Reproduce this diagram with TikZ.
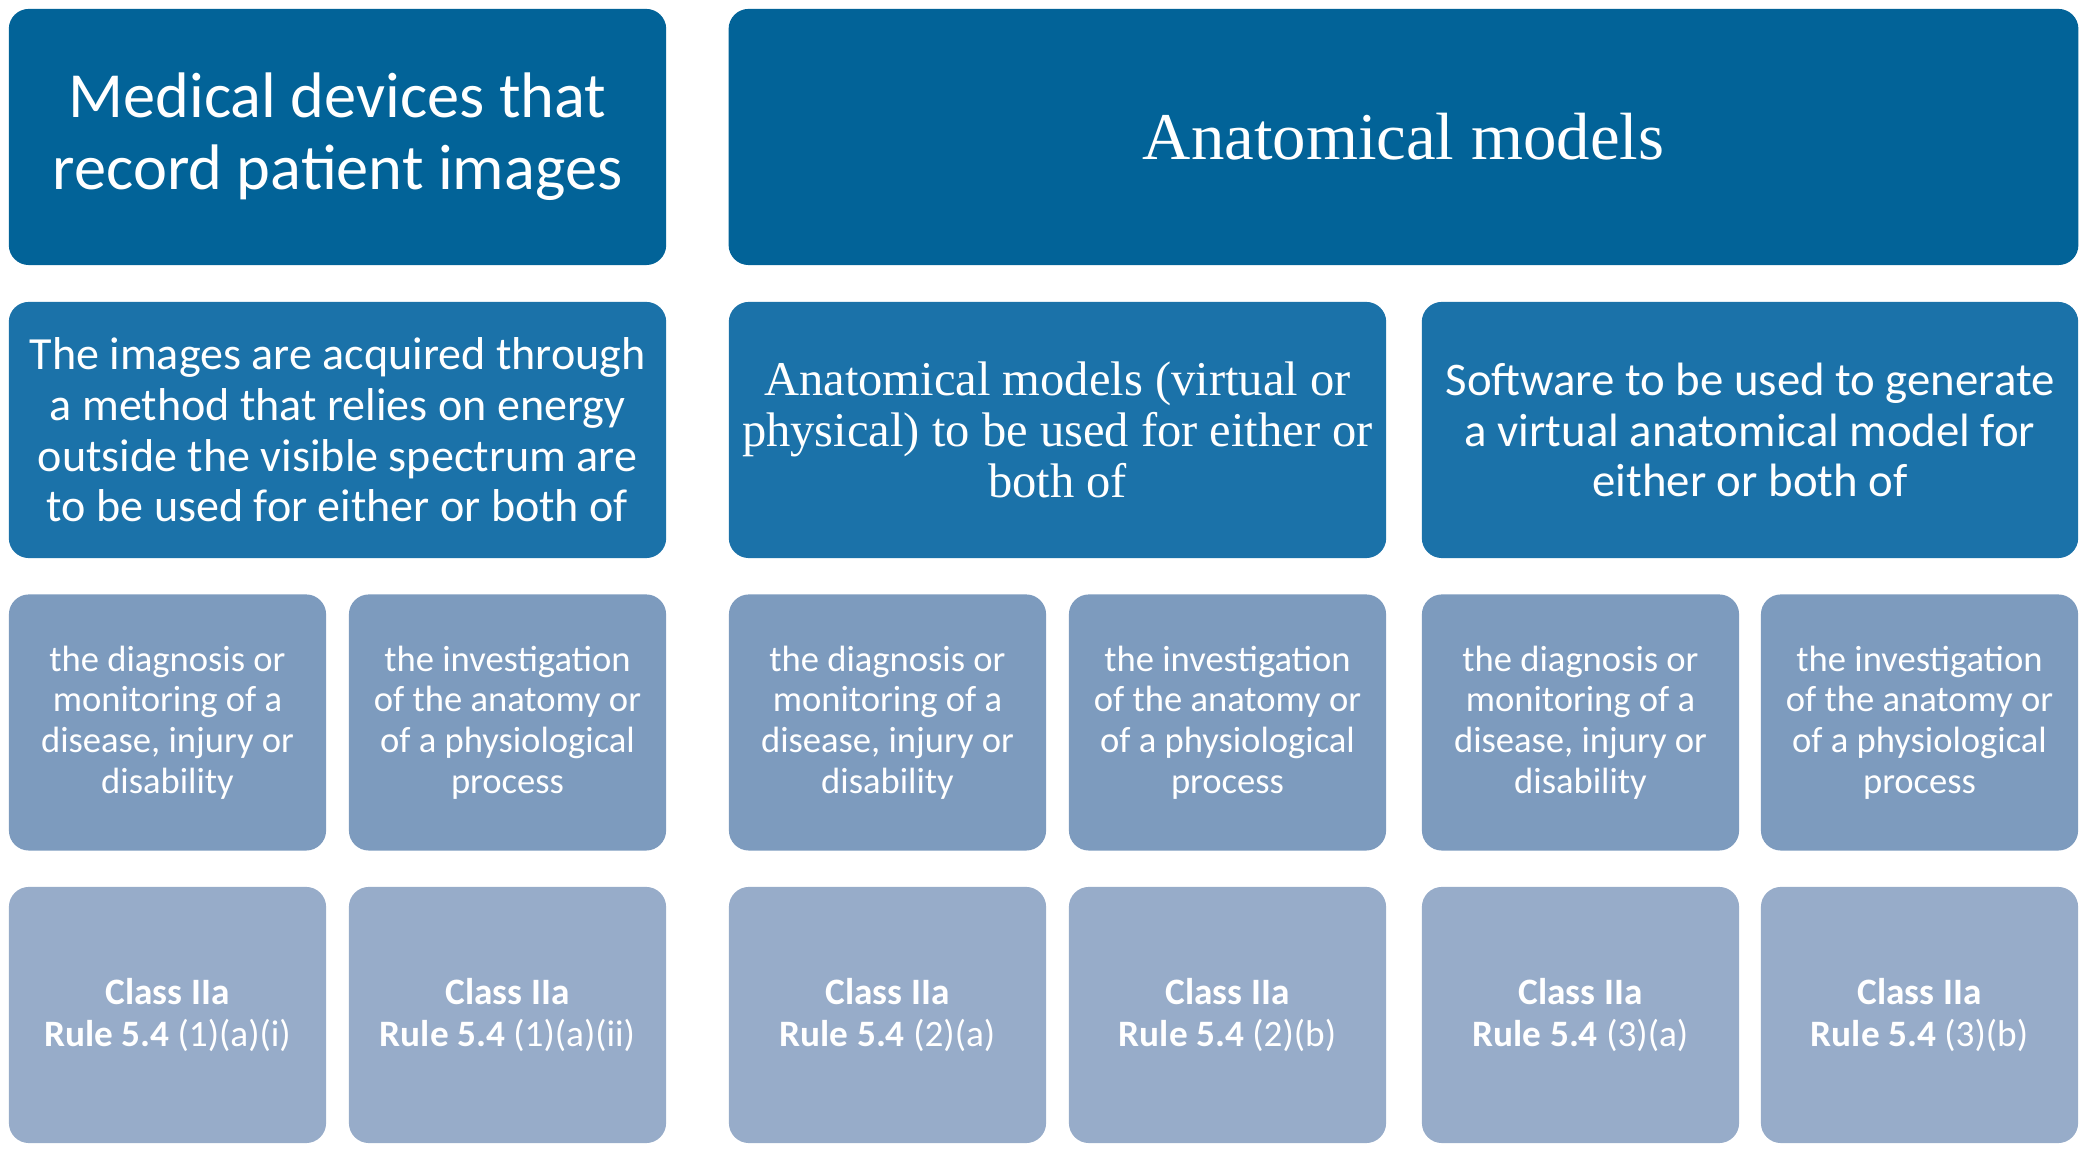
\documentclass[tikz,border=0pt]{standalone}
\usepackage{fontspec}
\setmainfont{Carlito}
\newfontfamily\serifhead{Liberation Serif}
\usepackage{tikz}

\definecolor{headblue}{RGB}{2,99,152}
\definecolor{condblue}{RGB}{27,114,169}
\definecolor{useblue}{RGB}{125,155,190}
\definecolor{classblue}{RGB}{151,172,201}

\tikzset{
  box/.style={rectangle, rounded corners=2mm, inner sep=0pt, align=center, text=white,
    minimum height=2.56cm},
  headbox/.style={box, fill=headblue},
  condbox/.style={box, fill=condblue, font=\fontsize{13.1}{14.4}\selectfont},
  usebox/.style={box, fill=useblue, minimum width=3.17cm, font=\fontsize{10.4}{11.6}\selectfont},
  classbox/.style={box, fill=classblue, minimum width=3.17cm, font=\fontsize{10.6}{11.8}\selectfont}
}

\begin{document}
\begin{tikzpicture}[x=0.01cm, y=0.01cm]

\useasboundingbox (0,0) rectangle (2094,1152);

% heads
\node [headbox, minimum width=6.57cm, font=\fontsize{18.3}{20.4}\selectfont] (devices) at (337.5,1015)
  {Medical devices that\\record patient images};
\node [headbox, minimum width=13.49cm, font=\serifhead\fontsize{19}{21}\selectfont] (models) at (1403.5,1015)
  {Anatomical models};

% conditions
\node [condbox, minimum width=6.57cm] (images) at (337.5,722)
  {The images are acquired through\\a method that relies on energy\\outside the visible spectrum are\\to be used for either or both of};
\node [condbox, minimum width=6.57cm, font=\serifhead\fontsize{13.8}{14.4}\selectfont] (physical) at (1057.5,722)
  {Anatomical models (virtual or\\physical) to be used for either or\\both of};
\node [condbox, minimum width=6.56cm, font=\fontsize{13.3}{14.4}\selectfont] (software) at (1750,722)
  {Software to be used to generate\\a virtual anatomical model for\\either or both of};

% uses
\node [usebox] (diag1) at (167.5,429.5) {the diagnosis or\\monitoring of a\\disease, injury or\\disability};
\node [usebox] (inv1) at (507.5,429.5) {the investigation\\of the anatomy or\\of a physiological\\process};
\node [usebox] (diag2) at (887.5,429.5) {the diagnosis or\\monitoring of a\\disease, injury or\\disability};
\node [usebox] (inv2) at (1227.5,429.5) {the investigation\\of the anatomy or\\of a physiological\\process};
\node [usebox] (diag3) at (1580.5,429.5) {the diagnosis or\\monitoring of a\\disease, injury or\\disability};
\node [usebox] (inv3) at (1919.5,429.5) {the investigation\\of the anatomy or\\of a physiological\\process};

% classes
\node [classbox] (rule1ai) at (167.5,137) {\textbf{Class IIa}\\\textbf{Rule 5.4} (1)(a)(i)};
\node [classbox] (rule1aii) at (507.5,137) {\textbf{Class IIa}\\\textbf{Rule 5.4} (1)(a)(ii)};
\node [classbox] (rule2a) at (887.5,137) {\textbf{Class IIa}\\\textbf{Rule 5.4} (2)(a)};
\node [classbox] (rule2b) at (1227.5,137) {\textbf{Class IIa}\\\textbf{Rule 5.4} (2)(b)};
\node [classbox] (rule3a) at (1580.5,137) {\textbf{Class IIa}\\\textbf{Rule 5.4} (3)(a)};
\node [classbox] (rule3b) at (1919.5,137) {\textbf{Class IIa}\\\textbf{Rule 5.4} (3)(b)};

\end{tikzpicture}
\end{document}
